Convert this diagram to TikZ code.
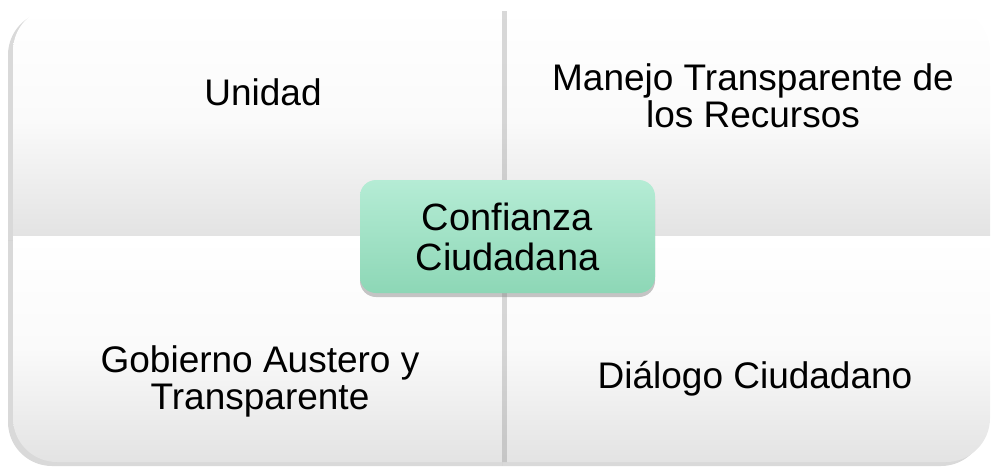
\documentclass[tikz,border=0pt]{standalone}
\usepackage{fontspec}
\setmainfont{Liberation Sans}
\usetikzlibrary{shadows}
\definecolor{mintTop}{RGB}{181,236,213}
\definecolor{mintBot}{RGB}{141,215,182}
\tikzset{
	quad/.style={top color=white, bottom color=black!11, middle color=black!2, drop shadow={shadow xshift=-2.5pt, shadow yshift=-2pt, opacity=.3}},
	quadtext/.style={align=center, inner sep=0pt, font=\fontsize{18.5}{18.5}\selectfont},
	core/.style={rounded corners=8pt, top color=mintTop, bottom color=mintBot, minimum width=147.5pt, minimum height=56.5pt, align=center, font=\fontsize{19}{20}\selectfont, drop shadow={shadow xshift=0pt, shadow yshift=-2pt, opacity=.45}}
}
\begin{document}
\begin{tikzpicture}[x=0.5pt,y=-0.5pt]
			\useasboundingbox (0,0) rectangle (995,466);
			\path[quad] (507,236) -- (13,236) [rounded corners=22pt] -- (13,7) [sharp corners] -- (507,7) -- cycle;
			\path[quad] (507,236) -- (507,462) [rounded corners=22pt] -- (13,462) [sharp corners] -- (13,236) -- cycle;
			\path[quad] (507,236) -- (507,7) [rounded corners=22pt] -- (990,7) [sharp corners] -- (990,236) -- cycle;
			\path[quad] (507,236) -- (990,236) [rounded corners=22pt] -- (990,462) [sharp corners] -- (507,462) -- cycle;
			\node[quadtext, anchor=base] (unidad) at (263,105) {Unidad};
			\node[quadtext] (recursos) at (753,96) {Manejo Transparente de\\los Recursos};
			\node[quadtext] (gobierno) at (260,381) {Gobierno Austero y\\Transparente};
			\node[quadtext, anchor=base] (dialogo) at (755,388) {Diálogo Ciudadano};
			\node[core] (confianza) at (507.5,236.5) {Confianza\\Ciudadana};
		\end{tikzpicture}
\end{document}
